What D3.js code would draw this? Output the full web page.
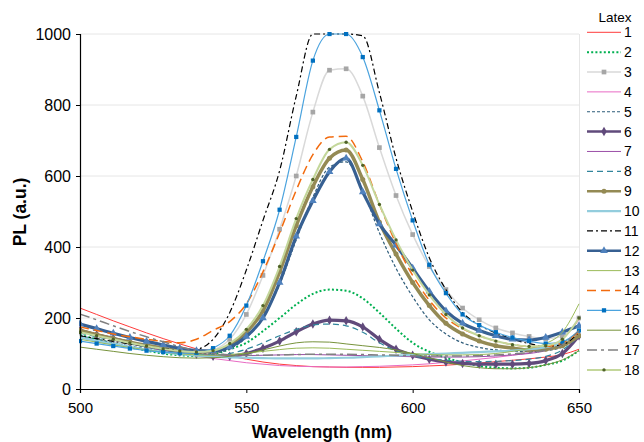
<!DOCTYPE html>
<html><head><meta charset="utf-8">
<script src="https://cdn.jsdelivr.net/npm/d3@7"></script>
<style>
body{margin:0;background:#fff}
svg{display:block}
text{font-family:"Liberation Sans",Arial,Helvetica,sans-serif;fill:#000}
</style>
</head><body>
<svg id="chart" width="644" height="442"></svg>
<script>
const wavelengths=[500,505,510,515,520,525,530,535,540,545,550,555,560,565,570,575,580,585,590,595,600,605,610,615,620,625,630,635,640,645,650];
const seriesNames=["1","2","3","4","5","6","7","8","9","10","11","12","13","14","15","16","17","18"];
const s1=[228,210,192,175,158,142,127,113,101,93,84,76,70,66,63,62,61,61,61,62,63,65,67,70,73,77,81,85,90,97,112];
const s2=[152,140,128,118,108,100,95,93,98,112,130,163,200,238,268,280,277,255,215,170,130,105,88,75,65,60,58,60,68,80,108];
const s3=[165,152,140,130,120,112,106,103,110,140,210,320,450,600,780,898,902,825,680,545,435,345,280,228,195,172,158,148,142,148,200];
const s4=[168,155,143,131,120,110,101,93,86,80,74,70,66,64,63,62,62,63,64,66,68,71,75,79,84,89,95,102,115,140,195];
const s5=[150,140,130,121,113,106,101,99,101,113,145,200,295,420,540,625,640,560,440,340,260,195,155,130,117,110,106,105,108,118,150];
const s6=[165,153,142,131,121,112,104,98,92,92,100,115,135,161,183,194,192,175,140,112,95,84,76,72,70,70,70,72,80,100,150];
const s7=[162,150,139,128,118,110,103,98,95,94,94,95,96,97,97,96,95,94,93,92,91,90,90,90,91,93,96,100,108,125,165];
const s8=[158,147,137,127,118,110,103,98,96,100,112,130,150,168,180,183,178,160,130,107,94,86,81,78,77,78,80,84,92,110,150];
const s9=[165,153,142,132,123,115,108,104,106,122,160,220,330,460,570,650,673,590,470,380,300,235,185,155,135,122,115,110,112,122,150];
const s10=[145,136,127,119,111,104,98,94,91,89,88,87,86,86,86,87,88,90,92,94,96,98,100,102,104,106,108,112,118,130,160];
const s11=[150,142,134,127,120,114,110,112,140,215,335,475,615,825,1000,1000,1000,995,835,650,500,370,280,215,180,158,140,128,120,125,160];
const s12=[183,170,157,145,134,124,115,108,107,118,148,200,300,430,530,612,650,555,465,405,340,275,220,185,165,150,140,138,145,160,178];
const s13=[140,132,124,117,110,104,99,96,95,97,101,106,111,115,116,115,112,109,106,103,100,97,96,96,97,100,106,114,128,160,240];
const s14=[175,165,155,147,140,134,130,140,165,190,240,330,440,560,660,710,712,640,520,410,320,250,200,170,150,135,125,120,120,130,160];
const s15=[135,128,121,114,108,104,101,102,115,150,235,360,505,710,925,1000,1000,935,785,620,475,350,270,210,180,160,145,135,128,133,165];
const s16=[118,112,106,100,95,91,88,87,88,92,100,110,121,130,133,132,127,122,117,110,100,88,76,66,60,57,57,60,68,82,108];
const s17=[211,195,178,162,147,133,119,108,100,96,95,95,96,97,98,98,98,97,96,95,94,93,93,93,94,96,99,103,110,125,165];
const s18=[160,150,140,130,121,113,107,104,108,128,168,235,345,480,590,675,695,630,520,420,335,265,210,172,150,135,125,120,122,140,200];
const xTicks=[500,550,600,650];
const yTicks=[0,200,400,600,800,1000];
const legendTitle="Latex";
const xTitle="Wavelength (nm)";
const yTitle="PL (a.u.)";

const values=[s1,s2,s3,s4,s5,s6,s7,s8,s9,s10,s11,s12,s13,s14,s15,s16,s17,s18];
const styles=[
 {c:"#FF3B3B",w:1},
 {c:"#00B050",w:2,d:"2,2.2"},
 {c:"#D9D9D9",w:1.5,m:"square",mc:"#A6A6A6",ms:22},
 {c:"#E86BC4",w:1},
 {c:"#2E5C7A",w:1.2,d:"3,2"},
 {c:"#604A7B",w:3.2,m:"diamond",mc:"#604A7B",ms:26},
 {c:"#9B4FA8",w:1},
 {c:"#31859C",w:1.2,d:"6,4"},
 {c:"#948A54",w:3.5,m:"circle",mc:"#948A54",ms:20},
 {c:"#93CDDD",w:2.2},
 {c:"#000000",w:1.2,d:"6,3,2,3"},
 {c:"#376092",w:3.2,m:"triangle",mc:"#4F81BD",ms:26},
 {c:"#9BBB59",w:1},
 {c:"#F26B0F",w:1.5,d:"9,5"},
 {c:"#4BA3DE",w:1.2,m:"square",mc:"#0070C0",ms:18},
 {c:"#77933C",w:1},
 {c:"#808080",w:1.5,d:"10,4,3,4"},
 {c:"#C4D79B",w:2,m:"circle",mc:"#4F6228",ms:9}
];
const symMap={square:d3.symbolSquare,diamond:d3.symbolDiamond,circle:d3.symbolCircle,triangle:d3.symbolTriangle};

const svg=d3.select("#chart");
const x=d3.scaleLinear().domain([500,650]).range([80,579]);
const y=d3.scaleLinear().domain([0,1000]).range([389,34]);

svg.append("defs").append("clipPath").attr("id","clip")
 .append("rect").attr("x",79).attr("y",32).attr("width",502).attr("height",358);

// gridlines
svg.append("g").selectAll("line").data(yTicks.filter(v=>v>0)).join("line")
 .attr("x1",80).attr("x2",579).attr("y1",d=>y(d)).attr("y2",d=>y(d))
 .attr("stroke","#e6e6e6").attr("stroke-width",1);
svg.append("line").attr("x1",579.5).attr("x2",579.5).attr("y1",34).attr("y2",389)
 .attr("stroke","#e6e6e6");

// series
const line=d3.line().x((d,i)=>x(wavelengths[i])).y(d=>y(d)).curve(d3.curveMonotoneX);
const plot=svg.append("g").attr("clip-path","url(#clip)");
values.forEach((vals,k)=>{
  const st=styles[k];
  plot.append("path").datum(vals).attr("d",line).attr("fill","none")
   .attr("stroke",st.c).attr("stroke-width",st.w)
   .attr("stroke-dasharray",st.d||null);
  if(st.m){
    const sym=d3.symbol().type(symMap[st.m]).size(st.ms);
    plot.append("g").selectAll("path").data(vals).join("path")
     .attr("d",sym).attr("fill",st.mc)
     .attr("transform",(d,i)=>`translate(${x(wavelengths[i])},${y(d)})`);
  }
});

// axes
const ya=svg.append("g").attr("transform","translate(80,0)")
 .call(d3.axisLeft(y).tickValues(yTicks).tickSize(4).tickPadding(5).tickFormat(d3.format("d")));
ya.selectAll("text").attr("font-size",16).style("font-family",'"Liberation Sans",Arial,sans-serif');
ya.select(".domain").attr("stroke","#000").attr("stroke-width",1.2);
const xa=svg.append("g").attr("transform","translate(0,389)")
 .call(d3.axisBottom(x).tickValues(xTicks).tickSize(4).tickPadding(9).tickFormat(d3.format("d")));
xa.selectAll("text").attr("font-size",15).style("font-family",'"Liberation Sans",Arial,sans-serif');
xa.select(".domain").attr("stroke","#000").attr("stroke-width",1.2);

// titles
svg.append("text").attr("x",322).attr("y",438).attr("text-anchor","middle")
 .attr("font-size",17.5).attr("font-weight","bold").text(xTitle);
svg.append("text").attr("transform","translate(26,212) rotate(-90)").attr("text-anchor","middle")
 .attr("font-size",17.5).attr("font-weight","bold").text(yTitle);

// legend
const lg=svg.append("g");
lg.append("text").attr("x",615).attr("y",21.5).attr("text-anchor","middle").attr("font-size",13.5).text(legendTitle);
seriesNames.forEach((name,k)=>{
  const st=styles[k];
  const yy=32.3+k*19.86;
  lg.append("line").attr("x1",587).attr("x2",621).attr("y1",yy).attr("y2",yy)
   .attr("stroke",st.c).attr("stroke-width",Math.min(st.w,2.5)).attr("stroke-dasharray",st.d||null);
  if(st.m){
    lg.append("path").attr("d",d3.symbol().type(symMap[st.m]).size(st.ms)())
     .attr("fill",st.mc).attr("transform",`translate(604,${yy})`);
  }
  lg.append("text").attr("x",624).attr("y",yy+5).attr("font-size",14).text(name);
});
</script>
</body></html>
